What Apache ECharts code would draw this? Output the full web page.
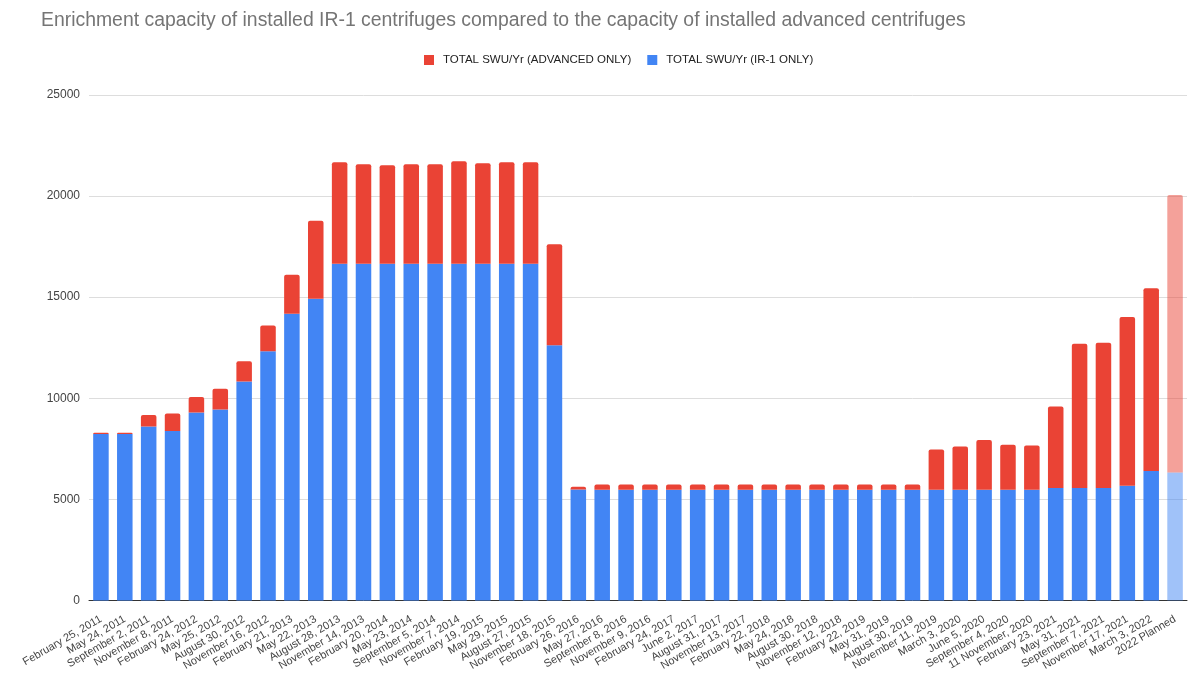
<!DOCTYPE html>
<html>
<head>
<meta charset="utf-8">
<title>Enrichment capacity</title>
<script src="https://cdn.jsdelivr.net/npm/echarts@6/dist/echarts.min.js"></script>
<style>
  html, body { margin: 0; padding: 0; background: #ffffff; }
  #chart { width: 1188px; height: 673px; }
</style>
</head>
<body>
<div id="chart"></div>
<script>
// Inspection dates
const categories = [
  'February 25, 2011', 'May 24, 2011', 'September 2, 2011', 'November 8, 2011',
  'February 24, 2012', 'May 25, 2012', 'August 30, 2012', 'November 16, 2012',
  'February 21, 2013', 'May 22, 2013', 'August 28, 2013', 'November 14, 2013',
  'February 20, 2014', 'May 23, 2014', 'September 5, 2014', 'November 7, 2014',
  'February 19, 2015', 'May 29, 2015', 'August 27, 2015', 'November 18, 2015',
  'February 26, 2016', 'May 27, 2016', 'September 8, 2016', 'November 9, 2016',
  'February 24, 2017', 'June 2, 2017', 'August 31, 2017', 'November 13, 2017',
  'February 22, 2018', 'May 24, 2018', 'August 30, 2018', 'November 12, 2018',
  'February 22, 2019', 'May 31, 2019', 'August 30, 2019', 'November 11, 2019',
  'March 3, 2020', 'June 5, 2020', 'September 4, 2020', '11 November, 2020',
  'February 23, 2021', 'May 31, 2021', 'September 7, 2021', 'November 17, 2021',
  'March 3, 2022', '2022 Planned'
];

// SWU/yr of installed IR-1 machines
const ir1Swu = [
  8230, 8230, 8600, 8380, 9300, 9450, 10830, 12320,
  14180, 14920, 16650, 16650, 16650, 16650, 16650, 16650,
  16650, 16650, 16650, 12620, 5490, 5480, 5480, 5480,
  5480, 5480, 5480, 5480, 5480, 5480, 5480, 5480,
  5480, 5480, 5480, 5480, 5480, 5480, 5480, 5480,
  5555, 5555, 5555, 5670, 6400, 6330
];

// SWU/yr of installed advanced machines
const advancedSwu = [
  65, 65, 575, 860, 765, 1020, 1000, 1280,
  1930, 3855, 5020, 4920, 4870, 4920, 4920, 5070,
  4970, 5020, 5020, 5000, 135, 255, 255, 255,
  255, 255, 255, 255, 255, 255, 255, 255,
  255, 255, 255, 1990, 2135, 2460, 2215, 2185,
  4040, 7135, 7185, 8350, 9040, 13720
];

// Categories that are projections rather than inspections
const plannedCategories = ['2022 Planned'];

const yTicks = { min: 0, max: 25000, interval: 5000 };

const seriesNames = {
  advanced: 'TOTAL SWU/Yr (ADVANCED ONLY)',
  ir1: 'TOTAL SWU/Yr (IR-1 ONLY)'
};

const RED = '#ea4335';
const BLUE = '#4285f4';
const FONT = 'Arial, "Liberation Sans", sans-serif';

function withPlannedStyle(values) {
  return values.map((v, i) =>
    plannedCategories.includes(categories[i])
      ? { value: v, itemStyle: { opacity: 0.5 } }
      : v
  );
}

const chart = echarts.init(document.getElementById('chart'), null, { renderer: 'canvas' });

chart.setOption({
  backgroundColor: '#ffffff',
  animation: false,
  textStyle: { fontFamily: FONT },
  title: {
    text: 'Enrichment capacity of installed IR-1 centrifuges compared to the capacity of installed advanced centrifuges',
    left: 36,
    top: 6,
    textStyle: { fontSize: 19.4, fontWeight: 'normal', color: '#757575', fontFamily: FONT }
  },
  legend: {
    data: [seriesNames.advanced, seriesNames.ir1],
    left: 419,
    top: 49,
    itemWidth: 10,
    itemHeight: 10,
    itemGap: 16,
    icon: 'rect',
    textStyle: { fontSize: 11.5, color: '#222222', fontFamily: FONT, padding: [0, 0, 0, 4] }
  },
  grid: {
    left: 89,
    right: 1,
    top: 95,
    bottom: 72,
    containLabel: false
  },
  xAxis: {
    type: 'category',
    data: categories,
    axisLine: { lineStyle: { color: '#333333', width: 1 } },
    axisTick: { alignWithLabel: true, length: 7, lineStyle: { color: '#333333' } },
    axisLabel: {
      interval: 0,
      rotate: 30,
      fontSize: 11,
      color: '#444444',
      fontFamily: FONT,
      margin: 18
    }
  },
  yAxis: {
    type: 'value',
    min: yTicks.min,
    max: yTicks.max,
    interval: yTicks.interval,
    axisLine: { show: false },
    axisTick: { show: false },
    axisLabel: {
      fontSize: 12,
      color: '#444444',
      fontFamily: FONT,
      margin: 9,
      formatter: (v) => String(v)
    },
    splitLine: { lineStyle: { color: '#dddddd', width: 1 } }
  },
  series: [
    {
      name: seriesNames.ir1,
      type: 'bar',
      stack: 'swu',
      barWidth: '65%',
      itemStyle: { color: BLUE },
      data: withPlannedStyle(ir1Swu)
    },
    {
      name: seriesNames.advanced,
      type: 'bar',
      stack: 'swu',
      barWidth: '65%',
      itemStyle: { color: RED, borderRadius: [2, 2, 0, 0] },
      data: withPlannedStyle(advancedSwu)
    }
  ]
});
</script>
</body>
</html>
